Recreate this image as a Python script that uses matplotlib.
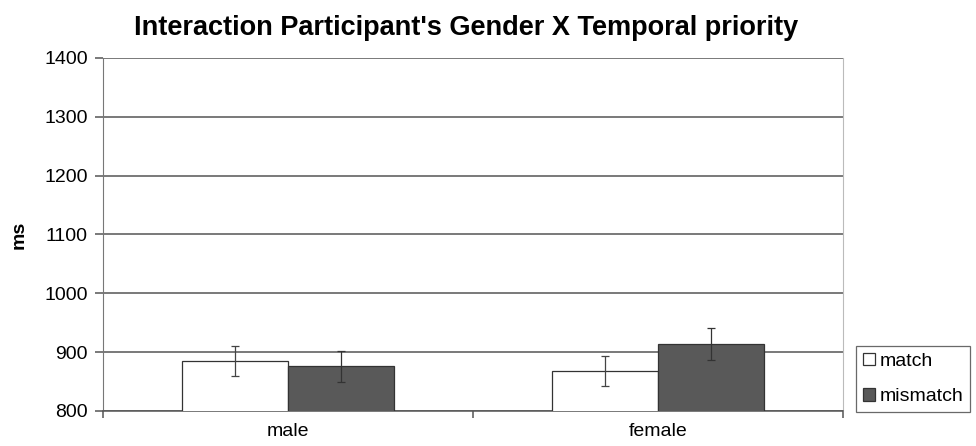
import matplotlib

matplotlib.use("Agg")
import matplotlib.pyplot as plt  # noqa: E402

groups = ["male", "female"]
conditions = ["match", "mismatch"]
match_ms = [885, 868]
mismatch_ms = [876, 914]
match_err = [26, 26]
mismatch_err = [26, 27]

plt.rcParams.update({"font.family": ["Liberation Sans", "DejaVu Sans"]})

fig = plt.figure(figsize=(9.76, 4.46), dpi=100)
ax = fig.add_axes([0.1055, 0.0785, 0.758, 0.7915])

w = 0.286
x = list(range(len(groups)))
ax.bar([i - w / 2 for i in x], match_ms, w, color="white",
       edgecolor="#333333", lw=0.9, label=conditions[0], zorder=3)
ax.bar([i + w / 2 for i in x], mismatch_ms, w, color="#595959",
       edgecolor="#333333", lw=0.9, label=conditions[1], zorder=3)
ax.errorbar([i - w / 2 for i in x], match_ms, yerr=match_err, fmt="none",
            ecolor="#444444", elinewidth=0.9, capsize=3, capthick=0.9, zorder=4)
ax.errorbar([i + w / 2 for i in x], mismatch_ms, yerr=mismatch_err, fmt="none",
            ecolor="#333333", elinewidth=0.9, capsize=3, capthick=0.9, zorder=4)

ax.set_ylim(800, 1400)
ax.set_xlim(-0.5, 1.5)
ax.set_yticks(range(800, 1401, 100))
ax.yaxis.grid(True, color="#555555", lw=1.1)
ax.set_axisbelow(True)

ax.set_xticks(x)
ax.set_xticklabels(groups)
ax.set_xticks([-0.5, 0.5, 1.5], minor=True)
ax.tick_params(axis="x", which="major", length=0, pad=9, labelsize=14)
ax.tick_params(axis="x", which="minor", length=5, color="#555555", width=1.1)
ax.tick_params(axis="y", length=6, color="#555555", width=1.1, labelsize=14, pad=5)

ax.spines["top"].set_visible(False)
ax.spines["right"].set_color("#bbbbbb")
ax.spines["left"].set_color("#777777")
ax.spines["bottom"].set_color("#555555")
ax.spines["bottom"].set_linewidth(1.1)

ax.set_ylabel("ms", fontsize=14, fontweight="bold", labelpad=12)

fig.text(0.478, 0.938, "Interaction Participant's Gender X Temporal priority",
         ha="center", va="center", fontsize=19.5, fontweight="bold")

leg = ax.legend(loc="lower left", bbox_to_anchor=(1.018, -0.003), fontsize=14,
                frameon=True, fancybox=False, edgecolor="#444444",
                handlelength=0.6, handleheight=0.6, handletextpad=0.25,
                borderpad=0.35, labelspacing=0.95, borderaxespad=0)
leg.get_frame().set_linewidth(0.9)

fig.savefig("out.png", dpi=100)
